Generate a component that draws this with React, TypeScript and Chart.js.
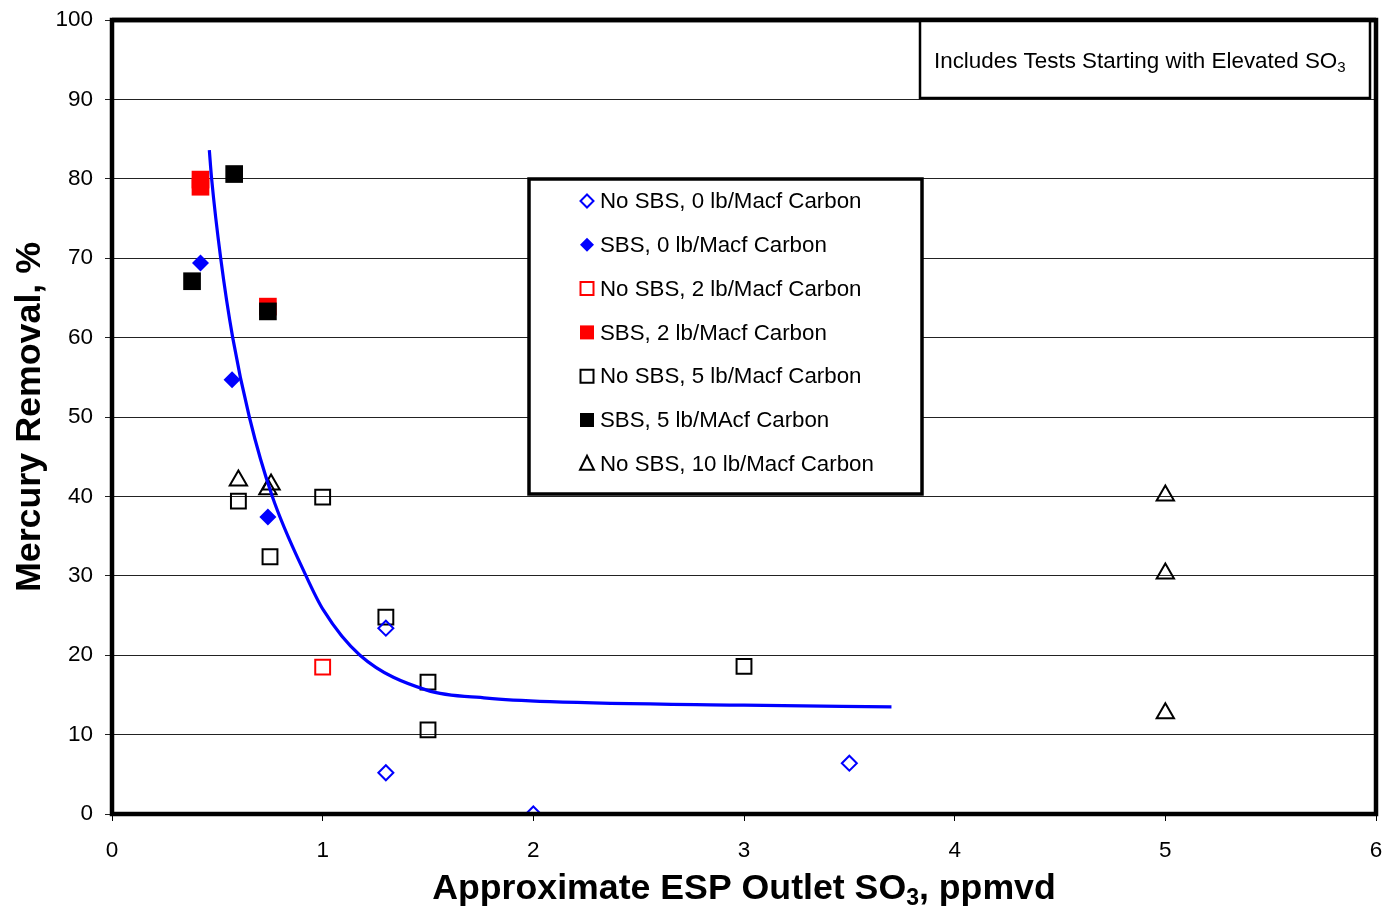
import React, { useEffect, useRef } from 'react';
import { Chart, registerables } from 'chart.js';

Chart.register(...registerables);

const xTickValues = [0, 1, 2, 3, 4, 5, 6];
const yTickValues = [0, 10, 20, 30, 40, 50, 60, 70, 80, 90, 100];

const seriesNames = [
  'No SBS, 0 lb/Macf Carbon',
  'SBS, 0 lb/Macf Carbon',
  'No SBS, 2 lb/Macf Carbon',
  'SBS, 2 lb/Macf Carbon',
  'No SBS, 5 lb/Macf Carbon',
  'SBS, 5 lb/MAcf Carbon',
  'No SBS, 10 lb/Macf Carbon',
];

const noSbs0X = [1.3, 1.3, 2.0, 3.5];
const noSbs0Y = [23.4, 5.2, 0, 6.4];
const sbs0X = [0.42, 0.57, 0.74];
const sbs0Y = [69.4, 54.7, 37.4];
const noSbs2X = [1.0];
const noSbs2Y = [18.5];
const sbs2X = [0.42, 0.42, 0.74];
const sbs2Y = [79.9, 79.0, 63.9];
const noSbs5X = [0.6, 0.75, 1.0, 1.3, 1.5, 1.5, 3.0];
const noSbs5Y = [39.4, 32.4, 39.9, 24.8, 16.6, 10.6, 18.6];
const sbs5X = [0.38, 0.58, 0.74];
const sbs5Y = [67.1, 80.6, 63.3];
const noSbs10X = [0.6, 0.74, 0.755, 5.0, 5.0, 5.0];
const noSbs10Y = [42.0, 40.9, 41.5, 40.1, 30.3, 12.7];

const trendX = [0.462, 0.473, 0.516, 0.573, 0.652, 0.761, 0.921, 1.003, 1.177, 1.494, 1.779, 2.079, 3.0, 3.7];
const trendY = [83.6, 80.0, 70.0, 60.0, 50.0, 40.0, 30.0, 25.7, 20.0, 15.6, 14.6, 14.15, 13.7, 13.5];

const FONT = "Arial, 'Liberation Sans', Helvetica, sans-serif";

const pts = (xs: number[], ys: number[]) => xs.map((x, i) => ({ x, y: ys[i] }));

type Marker = { shape: 'diamond' | 'square' | 'triangle'; fill: boolean; color: string };
const legendMarkers: Marker[] = [
  { shape: 'diamond', fill: false, color: '#0000FF' },
  { shape: 'diamond', fill: true, color: '#0000FF' },
  { shape: 'square', fill: false, color: '#FF0000' },
  { shape: 'square', fill: true, color: '#FF0000' },
  { shape: 'square', fill: false, color: '#000000' },
  { shape: 'square', fill: true, color: '#000000' },
  { shape: 'triangle', fill: false, color: '#000000' },
];

function drawMarker(ctx: CanvasRenderingContext2D, m: Marker, x: number, y: number) {
  ctx.save();
  ctx.beginPath();
  if (m.shape === 'diamond') {
    const r = m.fill ? 7 : 6.5;
    ctx.moveTo(x, y - r);
    ctx.lineTo(x + r, y);
    ctx.lineTo(x, y + r);
    ctx.lineTo(x - r, y);
    ctx.closePath();
  } else if (m.shape === 'square') {
    const h = m.fill ? 7 : 6.5;
    ctx.rect(x - h, y - h, 2 * h, 2 * h);
  } else {
    ctx.moveTo(x, y - 8);
    ctx.lineTo(x + 7, y + 6);
    ctx.lineTo(x - 7, y + 6);
    ctx.closePath();
  }
  if (m.fill) {
    ctx.fillStyle = m.color;
    ctx.fill();
  } else {
    ctx.fillStyle = '#fff';
    ctx.fill();
    ctx.lineWidth = 2;
    ctx.strokeStyle = m.color;
    ctx.stroke();
  }
  ctx.restore();
}

const decorPlugin = {
  id: 'decor',
  afterDatasetsDraw(chart: any) {
    const ctx: CanvasRenderingContext2D = chart.ctx;
    const a = chart.chartArea;
    ctx.save();
    // frame
    ctx.lineWidth = 4.5;
    ctx.strokeStyle = '#000';
    ctx.strokeRect(a.left, a.top, a.right - a.left, a.bottom - a.top);

    // note box top right
    ctx.fillStyle = '#fff';
    ctx.fillRect(920, a.top, 450, 78);
    ctx.lineWidth = 2.5;
    ctx.strokeRect(920, a.top, 450, 78);
    ctx.lineWidth = 4.5;
    ctx.beginPath();
    ctx.moveTo(a.left, a.top);
    ctx.lineTo(a.right, a.top);
    ctx.stroke();
    ctx.fillStyle = '#000';
    ctx.textBaseline = 'alphabetic';
    ctx.textAlign = 'left';
    ctx.font = `22.4px ${FONT}`;
    const noteText = 'Includes Tests Starting with Elevated SO';
    ctx.fillText(noteText, 934, 68);
    const nw = ctx.measureText(noteText).width;
    ctx.font = `15px ${FONT}`;
    ctx.fillText('3', 934 + nw, 72);

    // legend box
    const lx = 529, ly = 179, lw = 393, lh = 315;
    ctx.fillStyle = '#fff';
    ctx.fillRect(lx, ly, lw, lh);
    ctx.lineWidth = 3.5;
    ctx.strokeStyle = '#000';
    ctx.strokeRect(lx, ly, lw, lh);
    ctx.font = `22.3px ${FONT}`;
    ctx.textBaseline = 'middle';
    seriesNames.forEach((name, i) => {
      const y = 201 + i * 43.8;
      drawMarker(ctx, legendMarkers[i], 587, y);
      ctx.fillStyle = '#000';
      ctx.fillText(name, 600, y + 1);
    });

    ctx.restore();
  },
  afterDraw(chart: any) {
    const ctx: CanvasRenderingContext2D = chart.ctx;
    const a = chart.chartArea;
    ctx.save();
    ctx.fillStyle = '#000';
    // y title
    ctx.font = `bold 35.8px ${FONT}`;
    ctx.translate(40, (a.top + a.bottom) / 2);
    ctx.rotate(-Math.PI / 2);
    ctx.textAlign = 'center';
    ctx.textBaseline = 'alphabetic';
    ctx.fillText('Mercury Removal, %', 0, 0);
    ctx.restore();

    ctx.save();
    ctx.fillStyle = '#000';
    ctx.textBaseline = 'alphabetic';
    ctx.textAlign = 'left';
    const p1 = 'Approximate ESP Outlet SO';
    const sub = '3';
    const p2 = ', ppmvd';
    ctx.font = `bold 35.7px ${FONT}`;
    const w1 = ctx.measureText(p1).width;
    const w3 = ctx.measureText(p2).width;
    ctx.font = `bold 23px ${FONT}`;
    const w2 = ctx.measureText(sub).width;
    const total = w1 + w2 + w3;
    const sx = (a.left + a.right) / 2 - total / 2;
    const by = 899;
    ctx.font = `bold 35.7px ${FONT}`;
    ctx.fillText(p1, sx, by);
    ctx.font = `bold 23px ${FONT}`;
    ctx.fillText(sub, sx + w1, by + 6);
    ctx.font = `bold 35.7px ${FONT}`;
    ctx.fillText(p2, sx + w1 + w2, by);
    ctx.restore();
  },
};

export default function App() {
  const ref = useRef<HTMLCanvasElement>(null);
  useEffect(() => {
    if (!ref.current) return;
    const chart = new Chart(ref.current, {
      type: 'scatter',
      data: {
        datasets: [
          {
            label: 'Trend',
            data: pts(trendX, trendY),
            showLine: true,
            borderColor: '#0000FF',
            borderWidth: 3.2,
            pointRadius: 0,
            cubicInterpolationMode: 'monotone',
            order: 0,
          } as any,
          {
            label: seriesNames[5],
            data: pts(sbs5X, sbs5Y),
            pointStyle: 'rect',
            pointRadius: 12.5,
            backgroundColor: '#000',
            borderColor: '#000',
            borderWidth: 0,
            order: 1,
          },
          {
            label: seriesNames[3],
            data: pts(sbs2X, sbs2Y),
            pointStyle: 'rect',
            pointRadius: 12.5,
            backgroundColor: '#FF0000',
            borderColor: '#FF0000',
            borderWidth: 0,
            order: 2,
          },
          {
            label: seriesNames[0],
            data: pts(noSbs0X, noSbs0Y),
            pointStyle: 'rectRot',
            pointRadius: 7.5,
            backgroundColor: 'rgba(255,255,255,0)',
            borderColor: '#0000FF',
            borderWidth: 2,
            order: 3,
          },
          {
            label: seriesNames[1],
            data: pts(sbs0X, sbs0Y),
            pointStyle: 'rectRot',
            pointRadius: 8.5,
            backgroundColor: '#0000FF',
            borderColor: '#0000FF',
            borderWidth: 0,
            order: 4,
          },
          {
            label: seriesNames[2],
            data: pts(noSbs2X, noSbs2Y),
            pointStyle: 'rect',
            pointRadius: 10.5,
            backgroundColor: 'rgba(255,255,255,0)',
            borderColor: '#FF0000',
            borderWidth: 2,
            order: 5,
          },
          {
            label: seriesNames[4],
            data: pts(noSbs5X, noSbs5Y),
            pointStyle: 'rect',
            pointRadius: 10.5,
            backgroundColor: 'rgba(255,255,255,0)',
            borderColor: '#000',
            borderWidth: 2,
            order: 6,
          },
          {
            label: seriesNames[6],
            data: pts(noSbs10X, noSbs10Y),
            pointStyle: 'triangle',
            pointRadius: 10,
            backgroundColor: 'rgba(255,255,255,0)',
            borderColor: '#000',
            borderWidth: 2,
            order: 7,
          },
        ],
      },
      options: {
        animation: false,
        responsive: false,
        maintainAspectRatio: false,
        layout: { autoPadding: false, padding: { top: 20, right: 8, left: 0, bottom: 0 } },
        plugins: {
          legend: { display: false },
          tooltip: { enabled: false },
          title: { display: false },
        },
        scales: {
          x: {
            type: 'linear',
            min: 0,
            max: 6,
            afterBuildTicks: (s: any) => {
              s.ticks = xTickValues.map((v) => ({ value: v }));
            },
            afterFit: (s: any) => {
              s.height = 95;
              s.paddingLeft = 0;
              s.paddingRight = 0;
            },
            grid: {
              drawOnChartArea: false,
              drawTicks: true,
              tickLength: 7,
              color: '#000',
              lineWidth: 1,
            },
            border: { display: false },
            ticks: {
              color: '#000',
              font: { family: FONT, size: 22.5 },
              padding: 16,
              maxRotation: 0,
            },
          },
          y: {
            type: 'linear',
            min: 0,
            max: 100,
            afterBuildTicks: (s: any) => {
              s.ticks = yTickValues.map((v) => ({ value: v }));
            },
            afterFit: (s: any) => {
              s.width = 112;
              s.paddingTop = 0;
              s.paddingBottom = 0;
            },
            grid: {
              drawOnChartArea: true,
              drawTicks: true,
              tickLength: 7,
              color: '#222',
              lineWidth: 1,
            },
            border: { display: false },
            ticks: {
              color: '#000',
              font: { family: FONT, size: 22.5 },
              padding: 12,
            },
          },
        },
      },
      plugins: [decorPlugin],
    });
    return () => chart.destroy();
  }, []);
  return (
    <div style={{ position: 'fixed', left: 0, top: 0, width: 1384, height: 909, background: '#fff' }}>
      <canvas ref={ref} width={1384} height={909} style={{ width: 1384, height: 909, display: 'block' }} />
    </div>
  );
}
